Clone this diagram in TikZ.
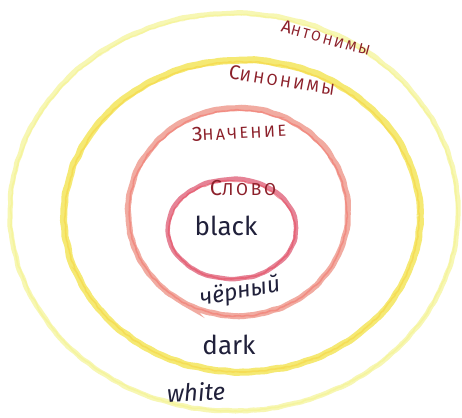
\documentclass[tikz,border=0pt]{standalone}
\usepackage{fontspec}
\setmainfont{Fira Sans}
\usetikzlibrary{decorations.pathmorphing}
\definecolor{ringanton}{RGB}{246,245,160}
\definecolor{ringsinon}{RGB}{243,228,80}
\definecolor{ringznach}{RGB}{238,150,138}
\definecolor{ringslovo}{RGB}{224,100,124}
\definecolor{labelred}{RGB}{140,32,42}
\definecolor{inkblue}{RGB}{32,32,58}
% hand-lettered small capitals: bigger first letter
\newcommand{\ringname}[2]{{\fontsize{20}{20}\selectfont #1}{\fontsize{16}{16}\selectfont #2}}

\begin{document}
\begin{tikzpicture}[x=1pt, y=-1pt,
    crayon/.style={line width=5pt, opacity=0.8, decorate, rounded corners=2pt,
        decoration={random steps, segment length=5pt, amplitude=0.7pt}},
    crayonline/.style={line width=1.6pt, opacity=0.6, decorate, rounded corners=1pt,
        decoration={random steps, segment length=3pt, amplitude=0.8pt}},
    ringlabel/.style={text=labelred, font=\addfontfeature{LetterSpace=16}},
    inktext/.style={text=inkblue, font=\fontsize{26}{26}\selectfont}
]
\pgfmathsetseed{11}
\useasboundingbox[fill=white] (0,0) rectangle (462,417);

% rings, outside in
\draw[crayon, color=ringanton] (234,212) ellipse (224 and 199);
\draw[crayonline, color=ringanton!80!ringsinon] (234,213) ellipse (223 and 198);
\draw[crayon, line width=7pt, color=ringsinon] (242,216) ellipse (178 and 156);
\draw[crayonline, color=ringsinon!85!orange] (242,217) ellipse (177 and 155);
\draw[crayon, line width=6pt, color=ringznach] (238,212) ellipse (110 and 104);
\draw[crayonline, color=ringznach!80!red] (238,213) ellipse (109 and 103);
\draw[crayon, line width=4.5pt, color=ringslovo] (232,229) ellipse (64 and 50);
\draw[crayonline, color=ringslovo!80!red] (232,230) ellipse (63 and 49);

% ring names
\node[ringlabel, rotate=-15, scale=0.88] (anton) at (326,38) {\ringname{А}{НТОНИМЫ}};
\node[ringlabel, rotate=-9] (sinon) at (282,80) {\ringname{С}{ИНОНИМЫ}};
\node[ringlabel, rotate=3] (znach) at (239,132) {\ringname{З}{НАЧЕНИЕ}};
\node[ringlabel, scale=1.08] (slovo) at (243,188) {\ringname{С}{ЛОВО}};

% words
\node[inktext] (black) at (226,226) {black};
\node[inktext, font=\fontsize{23}{23}\selectfont\itshape, rotate=10] (chern) at (240,292) {чёрный};
\node[inktext] (dark) at (229,345) {dark};
\node[inktext, font=\fontsize{24}{24}\selectfont\itshape, rotate=3] (white) at (196,392) {white};
\end{tikzpicture}
\end{document}
